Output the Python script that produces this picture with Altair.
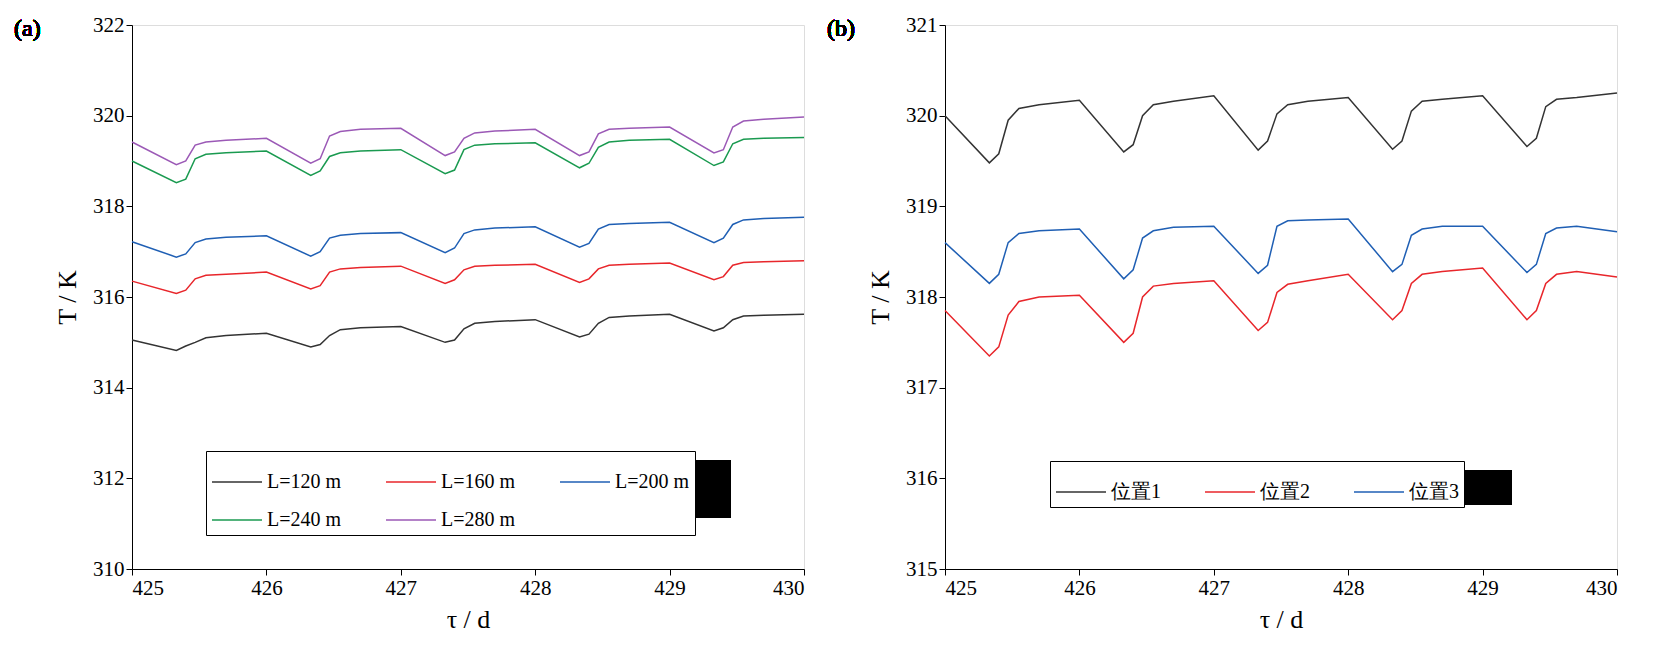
import altair as alt
import pandas as pd

# shared x knots: per day offsets 0, .33, .40, .47, .55, .70, then the final 430
offsets = [0, 0.33, 0.40, 0.47, 0.55, 0.70]
tau = [d + o for d in range(425, 430) for o in offsets] + [430]

L120 = [315.05, 314.82, 314.92, 315.0, 315.1, 315.15, 315.2, 314.9, 314.95, 315.15, 315.28, 315.32,
        315.35, 315.0, 315.05, 315.3, 315.42, 315.46, 315.5, 315.12, 315.18, 315.42, 315.55, 315.58,
        315.62, 315.25, 315.32, 315.5, 315.58, 315.6, 315.62]
L160 = [316.35, 316.08, 316.15, 316.4, 316.48, 316.5, 316.55, 316.18, 316.25, 316.55, 316.62, 316.65,
        316.68, 316.3, 316.38, 316.6, 316.68, 316.7, 316.72, 316.32, 316.4, 316.62, 316.7, 316.72,
        316.75, 316.38, 316.45, 316.7, 316.76, 316.78, 316.8]
L200 = [317.22, 316.88, 316.95, 317.2, 317.28, 317.32, 317.35, 316.9, 317.0, 317.3, 317.36, 317.4,
        317.42, 316.98, 317.08, 317.4, 317.48, 317.52, 317.55, 317.1, 317.18, 317.5, 317.6, 317.62,
        317.65, 317.2, 317.3, 317.6, 317.7, 317.73, 317.76]
L240 = [319.0, 318.52, 318.6, 319.05, 319.15, 319.18, 319.22, 318.68, 318.78, 319.1, 319.18, 319.22,
        319.25, 318.72, 318.8, 319.25, 319.35, 319.38, 319.4, 318.85, 318.95, 319.3, 319.42, 319.46,
        319.48, 318.9, 318.98, 319.38, 319.48, 319.5, 319.52]
L280 = [319.42, 318.92, 319.0, 319.35, 319.42, 319.46, 319.5, 318.95, 319.05, 319.55, 319.65, 319.7,
        319.72, 319.12, 319.2, 319.5, 319.62, 319.66, 319.7, 319.12, 319.2, 319.6, 319.7, 319.72,
        319.75, 319.18, 319.25, 319.75, 319.88, 319.92, 319.97]

pos1 = [320.0, 319.48, 319.58, 319.95, 320.08, 320.12, 320.17, 319.6, 319.68, 320.0, 320.12, 320.16,
        320.22, 319.62, 319.72, 320.02, 320.12, 320.16, 320.2, 319.63, 319.72, 320.05, 320.16, 320.18,
        320.22, 319.66, 319.75, 320.1, 320.18, 320.2, 320.25]
pos2 = [317.85, 317.35, 317.45, 317.8, 317.95, 318.0, 318.02, 317.5, 317.6, 318.0, 318.12, 318.15,
        318.18, 317.63, 317.72, 318.05, 318.14, 318.18, 318.25, 317.75, 317.85, 318.15, 318.25, 318.28,
        318.32, 317.75, 317.85, 318.15, 318.25, 318.28, 318.22]
pos3 = [318.6, 318.15, 318.25, 318.6, 318.7, 318.73, 318.75, 318.2, 318.3, 318.65, 318.73, 318.77,
        318.78, 318.26, 318.35, 318.78, 318.84, 318.85, 318.86, 318.28, 318.36, 318.68, 318.75, 318.78,
        318.78, 318.27, 318.36, 318.7, 318.76, 318.78, 318.72]

names_a = ["L=120 m", "L=160 m", "L=200 m", "L=240 m", "L=280 m"]
colors_a = ["#333333", "#e8262b", "#1f5fb4", "#1a9a50", "#9b59b6"]
names_b = ["位置1", "位置2", "位置3"]
colors_b = ["#333333", "#e8262b", "#1f5fb4"]

FONT = "Liberation Serif"
W, H = 672, 544


def long_df(names, series):
    rows = []
    for n, s in zip(names, series):
        rows += [{"tau": t, "T": v, "s": n} for t, v in zip(tau, s)]
    return pd.DataFrame(rows)


def axis(vals, pad):
    return alt.Axis(values=vals, format="d", tickSize=6, grid=False,
                    labelFontSize=21, titleFontSize=26, labelFont=FONT, titleFont=FONT,
                    titleFontWeight="normal", labelColor="black", titleColor="black",
                    tickColor="black", domainColor="black", titlePadding=pad)


def panel(df, names, colors, ydom, ystep, label, lx, ly, shadow, colpad):
    lines = alt.Chart(df).mark_line(strokeWidth=1.5).encode(
        x=alt.X("tau:Q", title="τ / d", scale=alt.Scale(domain=[425, 430], nice=False),
                axis=axis(list(range(425, 431)), 8)),
        y=alt.Y("T:Q", title="T / K", scale=alt.Scale(domain=list(ydom), nice=False),
                axis=axis(list(range(ydom[0], ydom[1] + 1, ystep)), 12)),
        color=alt.Color("s:N", scale=alt.Scale(domain=names, range=colors),
                        legend=alt.Legend(title=None, orient="none", legendX=lx, legendY=ly,
                                          direction="horizontal", columns=3, symbolType="stroke",
                                          symbolStrokeWidth=1.6, symbolSize=2500, labelFontSize=20,
                                          labelFont=FONT, labelColor="black", fillColor="white",
                                          strokeColor="black", padding=5, columnPadding=colpad,
                                          rowPadding=2, labelLimit=200)),
    )
    sh = alt.Chart(df).mark_rect(color="black").encode(
        x=alt.value(lx + 9), x2=alt.value(lx + 9 + shadow[0]),
        y=alt.value(ly + 9), y2=alt.value(ly + 9 + shadow[1]))
    txt = alt.Chart(df).mark_text(text=label, font=FONT, fontSize=24, fontWeight="normal",
                                  align="left", baseline="top").encode(
        x=alt.value(-118), y=alt.value(-8))
    return alt.layer(sh, lines, txt).properties(width=W, height=H)


a = panel(long_df(names_a, [L120, L160, L200, L240, L280]), names_a, colors_a,
          (310, 322), 2, "(a)", 74, 426, (516, 58), 40)
b = panel(long_df(names_b, [pos1, pos2, pos3]), names_b, colors_b,
          (315, 321), 1, "(b)", 105, 436, (453, 35), 40)

chart = alt.hconcat(a, b, spacing=18).resolve_scale(color="independent").configure_view(
    stroke="black", strokeWidth=1.2).configure(background="white")
chart.save("out.html", embed_options={"renderer": "svg", "actions": False})
